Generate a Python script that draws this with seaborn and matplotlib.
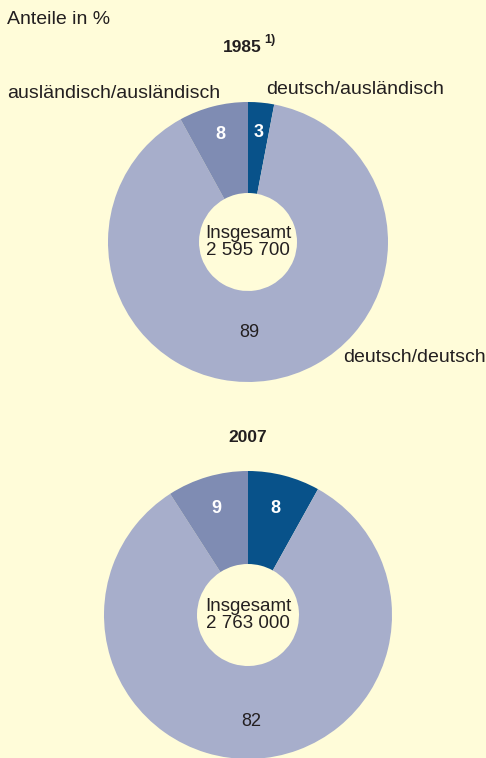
import numpy as np
import matplotlib.pyplot as plt
import seaborn as sns

# Daten (Anteile in %), Reihenfolge im Uhrzeigersinn ab 12 Uhr
categories = ['deutsch/ausländisch', 'deutsch/deutsch', 'ausländisch/ausländisch']
shares_1985 = [3, 89, 8]
shares_2007 = [8, 82, 9]
totals = ['2 595 700', '2 763 000']
years = ['1985', '2007']

bg = '#FFFCD9'
palette = ['#08528A', '#A7AECB', '#7F8CB3']
txt = '#231F20'

sns.set_style('white', {'axes.facecolor': bg, 'figure.facecolor': bg})
plt.rcParams['font.family'] = ['Liberation Sans', 'DejaVu Sans']

fig = plt.figure(figsize=(4.86, 7.58), dpi=100)
ax = fig.add_axes([0, 0, 1, 1])


def donut(vals, cx, cy, r, hole, total, lab_r, shift):
    # y-Achse invertiert -> counterclock=True zeichnet optisch im Uhrzeigersinn
    ax.pie(vals, colors=palette, startangle=-90, counterclock=True,
           radius=r, center=(cx, cy), frame=True,
           wedgeprops=dict(width=r - hole, linewidth=0))
    v = np.array(vals, dtype=float)
    frac = v / v.sum()
    mids = (np.cumsum(frac) - frac / 2) * 360 - 90 + np.array(shift)
    for val, ang, rr, col in zip(vals, mids, lab_r, ['white', txt, 'white']):
        a = np.deg2rad(ang)
        ax.text(cx + rr * np.cos(a), cy + rr * np.sin(a), str(val),
                ha='center', va='center', fontsize=13,
                fontweight='bold' if col == 'white' else 'normal', color=col)
    ax.text(cx, cy - 8.5, 'Insgesamt', ha='center', va='center', fontsize=13.5, color=txt)
    ax.text(cx, cy + 8.5, total, ha='center', va='center', fontsize=13.5, color=txt)


donut(shares_1985, 248, 242, 140, 49, totals[0], [110, 91, 111], [0, 8, 0])
donut(shares_2007, 248, 615, 144, 51, totals[1], [110, 107, 111], [0, 0, 0])

ax.set_xlim(0, 486)
ax.set_ylim(758, 0)
ax.set_aspect('auto')
ax.axis('off')

ax.text(7, 20, 'Anteile in %', ha='left', va='center', fontsize=14, color=txt)
ax.text(262, 47, years[0], ha='right', va='center', fontsize=12.5, fontweight='bold', color=txt)
ax.text(264, 40, '1)', ha='left', va='center', fontsize=9, fontweight='bold', color=txt)
ax.text(248, 437, years[1], ha='center', va='center', fontsize=12.5, fontweight='bold', color=txt)

ax.text(7, 93, categories[2], ha='left', va='center', fontsize=14, color=txt)
ax.text(266, 89, categories[0], ha='left', va='center', fontsize=14, color=txt)
ax.text(486, 357, categories[1], ha='right', va='center', fontsize=14, color=txt)

fig.savefig('out.png', dpi=100, facecolor=bg)
